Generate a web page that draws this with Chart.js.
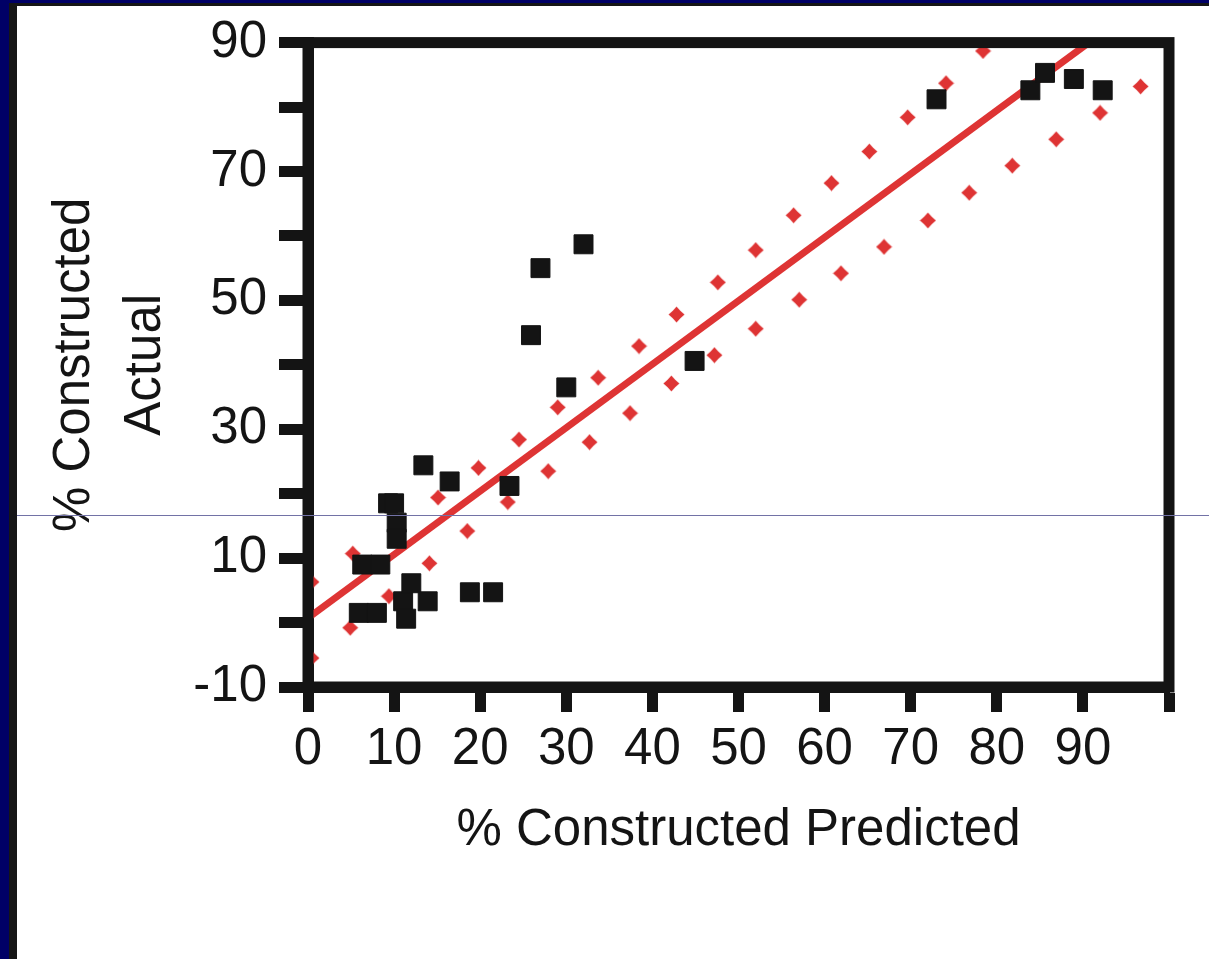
<!DOCTYPE html>
<html>
<head>
<meta charset="utf-8">
<title>% Constructed Actual vs Predicted</title>
<script src="https://cdn.jsdelivr.net/npm/chart.js@4.4.1/dist/chart.umd.min.js"></script>
<style>
  html, body { margin: 0; padding: 0; background: #fff; }
  body { width: 1209px; height: 959px; position: relative; overflow: hidden; }
  #plot { position: absolute; left: 0; top: 0; }
  .edge { position: absolute; z-index: 2; }
  #navyL { left: 0; top: 0; width: 9px; height: 959px; background: #000066; }
  #navyT { left: 0; top: 0; width: 1209px; height: 3px; background: #000066; }
  #inkL { left: 9px; top: 3px; width: 8px; height: 956px; background: #161616; }
  #inkT { left: 9px; top: 3px; width: 1200px; height: 3px; background: #161616; }
  #rule { left: 17px; top: 515px; width: 1192px; height: 1px; background: #7272a6; }
</style>
</head>
<body>
<canvas id="plot" width="1209" height="959"></canvas>
<div class="edge" id="navyL"></div>
<div class="edge" id="navyT"></div>
<div class="edge" id="inkL"></div>
<div class="edge" id="inkT"></div>
<div class="edge" id="rule"></div>
<script>
// ---- data ----
const predicted = [5.9, 8.0, 6.3, 8.4, 9.3, 10.0, 10.3, 10.3, 11.05, 11.4, 12.0, 13.9, 13.4, 16.45,
  18.8, 21.5, 23.4, 25.9, 27.0, 30.0, 32.0, 44.9, 73.0, 83.9, 85.6, 88.95, 92.3];
const actual = [1.5, 1.5, 9.0, 9.0, 18.5, 18.5, 15.5, 13.0, 3.3, 0.6, 6.1, 3.3, 24.4, 21.9,
  4.7, 4.7, 21.2, 44.6, 55.0, 36.5, 58.7, 40.6, 81.2, 82.6, 85.3, 84.35, 82.6];

const upperX = [0.4, 5.2, 15.1, 19.8, 24.5, 29.0, 33.7, 38.45, 42.8, 47.6, 52.0, 56.4, 60.8, 65.2, 69.65, 74.1, 78.4];
const upperY = [6.3, 10.7, 19.4, 24.0, 28.4, 33.4, 38.0, 42.9, 47.8, 52.8, 57.8, 63.2, 68.2, 73.1, 78.4, 83.7, 88.7];

const lowerX = [0.4, 4.9, 9.4, 14.1, 18.5, 23.2, 27.9, 32.7, 37.4, 42.2, 47.2, 52.0, 57.05, 61.9, 66.9, 72.0, 76.8, 81.8, 86.9, 92.0, 96.7];
const lowerY = [-5.5, -0.8, 4.1, 9.2, 14.2, 18.7, 23.5, 28.0, 32.5, 37.1, 41.5, 45.6, 50.1, 54.2, 58.3, 62.4, 66.7, 70.9, 75.0, 79.1, 83.2];

const fitX = [0, 91];
const fitY = [0.7, 90.3];

const xLabelValues = [0, 10, 20, 30, 40, 50, 60, 70, 80, 90];
const yLabelValues = [-10, 10, 30, 50, 70, 90];

const xTitle = '% Constructed Predicted';
const yTitle = ['% Constructed', 'Actual'];

// ---- styling ----
const INK = '#141414';
const RED = '#de3434';
const FONT = '"Liberation Sans", Arial, Helvetica, sans-serif';

const pairs = (xs, ys) => xs.map((x, i) => ({ x, y: ys[i] }));

// small four-pointed red marker used for the band points
function makeStar() {
  const c = document.createElement('canvas');
  c.width = 17; c.height = 17;
  const g = c.getContext('2d');
  g.fillStyle = RED;
  g.beginPath();
  g.moveTo(8.5, 0.5);
  g.lineTo(12.3, 4.7);
  g.lineTo(16.5, 8.5);
  g.lineTo(12.3, 12.3);
  g.lineTo(8.5, 16.5);
  g.lineTo(4.7, 12.3);
  g.lineTo(0.5, 8.5);
  g.lineTo(4.7, 4.7);
  g.closePath();
  g.fill();
  g.beginPath();
  g.arc(8.5, 8.5, 4.6, 0, Math.PI * 2);
  g.fill();
  return c;
}
const star = makeStar();

// heavy box round the plot area
const framePlugin = {
  id: 'frame',
  afterDatasetsDraw(chart) {
    const { ctx, chartArea: a } = chart;
    ctx.save();
    ctx.strokeStyle = INK;
    ctx.lineWidth = 11;
    ctx.strokeRect(a.left, a.top, a.right - a.left, a.bottom - a.top);
    ctx.restore();
  }
};

new Chart(document.getElementById('plot'), {
  type: 'scatter',
  data: {
    datasets: [
      { label: 'Observed', data: pairs(predicted, actual), pointStyle: 'rect', pointRadius: 13.4,
        backgroundColor: INK, borderColor: INK, borderWidth: 1 },
      { label: 'Fit', type: 'line', data: pairs(fitX, fitY), borderColor: RED, borderWidth: 7,
        pointRadius: 0, fill: false, tension: 0 },
      { label: 'Upper', data: pairs(upperX, upperY), pointStyle: star, pointRadius: 8 },
      { label: 'Lower', data: pairs(lowerX, lowerY), pointStyle: star, pointRadius: 8 },
    ],
  },
  options: {
    responsive: false,
    animation: false,
    events: [],
    layout: { padding: { left: 10, top: 42, right: 40, bottom: 72 } },
    plugins: { legend: { display: false }, tooltip: { enabled: false } },
    scales: {
      x: {
        type: 'linear', position: 'bottom', min: 0, max: 100,
        afterFit: (s) => { s.height = 200; },
        grid: { drawOnChartArea: false, tickLength: 25, tickWidth: 11, tickColor: INK },
        border: { width: 11, color: INK },
        ticks: {
          stepSize: 10, padding: 7, color: INK, maxRotation: 0, autoSkip: false,
          font: { family: FONT, size: 51 },
          callback: (v) => (xLabelValues.includes(v) ? String(v) : ''),
        },
        title: { display: true, text: xTitle, color: INK, font: { family: FONT, size: 51 },
          padding: { top: 0, bottom: 25 } },
      },
      y: {
        type: 'linear', min: -10, max: 90,
        afterFit: (s) => { s.width = 298; },
        grid: { drawOnChartArea: false, tickLength: 29, tickWidth: 11, tickColor: INK },
        border: { width: 11, color: INK },
        ticks: {
          stepSize: 10, padding: 12, color: INK, autoSkip: false,
          font: { family: FONT, size: 51 },
          callback: (v) => (yLabelValues.includes(v) ? String(v) : ''),
        },
        title: { display: true, text: yTitle, color: INK, font: { family: FONT, size: 51, lineHeight: 1.4 },
          padding: { top: 29, bottom: 0 } },
      },
    },
  },
  plugins: [framePlugin],
});
</script>
</body>
</html>
